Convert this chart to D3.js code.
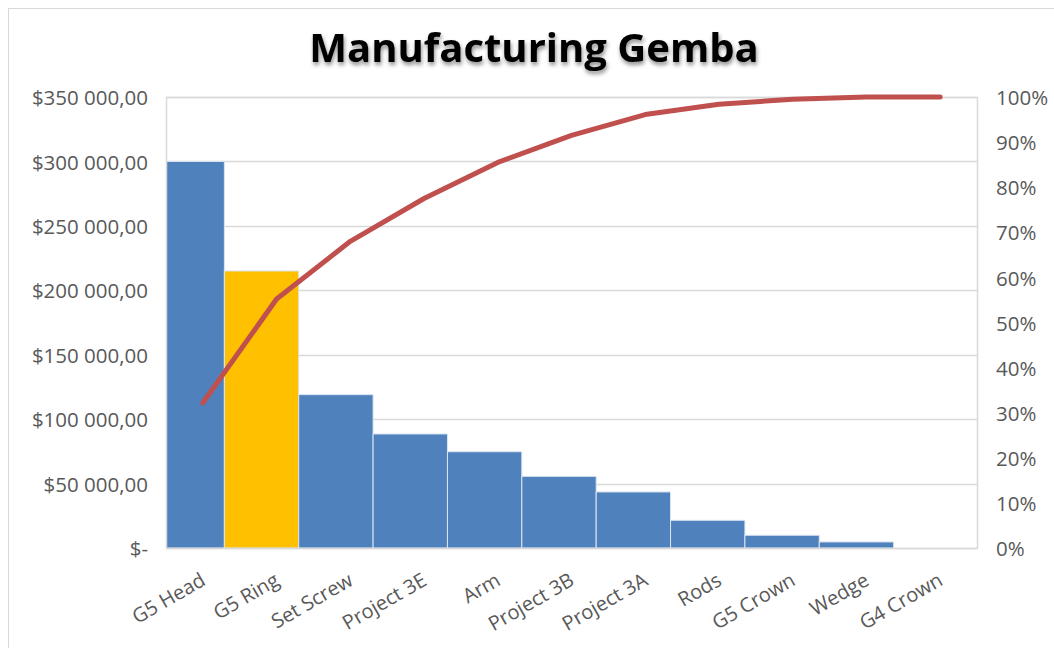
<!DOCTYPE html>
<html>
<head>
<meta charset="utf-8">
<script src="https://cdn.jsdelivr.net/npm/d3@7"></script>
<style>
  html, body { margin: 0; padding: 0; background: #fff; }
  svg { display: block; }
</style>
</head>
<body>
<svg id="chart" width="1054" height="648"></svg>
<script>
const categories = ["G5 Head", "G5 Ring", "Set Screw", "Project 3E", "Arm", "Project 3B", "Project 3A", "Rods", "G5 Crown", "Wedge", "G4 Crown"];
const costValues = [300000, 215000, 119000, 88500, 74700, 55600, 43500, 21500, 9900, 4700, 0];
const cumulativePct = [32.2, 55.2, 68.0, 77.5, 85.5, 91.5, 96.1, 98.4, 99.5, 100, 100];
const highlightCategory = "G5 Ring";
const leftTicks = [0, 50000, 100000, 150000, 200000, 250000, 300000, 350000];
const leftTickLabels = ["$-", "$50 000,00", "$100 000,00", "$150 000,00", "$200 000,00", "$250 000,00", "$300 000,00", "$350 000,00"];
const rightTicks = [0, 10, 20, 30, 40, 50, 60, 70, 80, 90, 100];
const rightTickLabels = ["0%", "10%", "20%", "30%", "40%", "50%", "60%", "70%", "80%", "90%", "100%"];
const title = "Manufacturing Gemba";

const svg = d3.select("#chart");
const plot = { left: 166, right: 977, top: 97, bottom: 548 };
const font = "'Open Sans', Lato, sans-serif";
const textColor = "#595959";
const gridColor = "#d9d9d9";

// outer chart border
svg.append("rect").attr("x", 8.5).attr("y", 8.5).attr("width", 1060).attr("height", 660)
  .attr("fill", "none").attr("stroke", "#d9d9d9").attr("stroke-width", 1);

const y = d3.scaleLinear().domain([0, 350000]).range([plot.bottom, plot.top]);
const yPct = d3.scaleLinear().domain([0, 100]).range([plot.bottom, plot.top]);
const xLine = d3.scalePoint().domain(categories).range([plot.left, plot.right]).padding(0.5);
const xBar = d3.scaleBand().domain(categories).range([150, 968]).paddingInner(0).paddingOuter(0);

// gridlines
svg.append("g").selectAll("line").data(leftTicks).join("line")
  .attr("x1", plot.left).attr("x2", plot.right)
  .attr("y1", d => Math.round(y(d)) + 0.5).attr("y2", d => Math.round(y(d)) + 0.5)
  .attr("stroke", gridColor).attr("stroke-width", 1.5);

// clip
svg.append("clipPath").attr("id", "plotclip").append("rect")
  .attr("x", plot.left).attr("y", plot.top).attr("width", plot.right - plot.left).attr("height", plot.bottom - plot.top);

// bars
svg.append("g").attr("clip-path", "url(#plotclip)").selectAll("rect")
  .data(categories.map((c, i) => ({ c, v: costValues[i] })).filter(d => d.v > 0))
  .join("rect")
  .attr("x", d => xBar(d.c))
  .attr("width", xBar.bandwidth())
  .attr("y", d => y(d.v))
  .attr("height", d => y(0) - y(d.v))
  .attr("fill", d => d.c === highlightCategory ? "#ffc000" : "#4f81bd")
  .attr("stroke", "#dbe5f1").attr("stroke-width", 1);

// plot border
svg.append("rect").attr("x", plot.left + 0.5).attr("y", plot.top + 0.5)
  .attr("width", plot.right - plot.left).attr("height", plot.bottom - plot.top)
  .attr("fill", "none").attr("stroke", gridColor).attr("stroke-width", 1.5);

// cumulative line
const line = d3.line().x((d, i) => xLine(categories[i])).y(d => yPct(d));
svg.append("path").datum(cumulativePct).attr("d", line)
  .attr("fill", "none").attr("stroke", "#c0504d").attr("stroke-width", 5)
  .attr("stroke-linejoin", "round").attr("stroke-linecap", "round");

// left axis labels
svg.append("g").selectAll("text").data(leftTicks).join("text")
  .attr("x", 148).attr("y", d => y(d) + 1).attr("dy", "0.35em")
  .attr("text-anchor", "end").attr("font-family", font).attr("font-size", 20.5)
  .attr("fill", textColor).text((d, i) => leftTickLabels[i]);

// right axis labels
svg.append("g").selectAll("text").data(rightTicks).join("text")
  .attr("x", 996).attr("y", d => yPct(d) + 1).attr("dy", "0.35em")
  .attr("text-anchor", "start").attr("font-family", font).attr("font-size", 20.5)
  .attr("fill", textColor).text((d, i) => rightTickLabels[i]);

// x labels
svg.append("g").selectAll("text").data(categories).join("text")
  .attr("transform", d => `translate(${xLine(d) - 3},${572}) rotate(-30)`)
  .attr("text-anchor", "end").attr("dy", "0.7em")
  .attr("font-family", font).attr("font-size", 20)
  .attr("fill", textColor).text(d => d);

// title with shadow
const defs = svg.append("defs");
const f = defs.append("filter").attr("id", "shadow").attr("x", "-10%").attr("y", "-30%").attr("width", "120%").attr("height", "160%");
f.append("feDropShadow").attr("dx", 1).attr("dy", 3).attr("stdDeviation", 2).attr("flood-color", "#000").attr("flood-opacity", 0.45);
svg.append("text").attr("x", 534).attr("y", 62).attr("text-anchor", "middle")
  .attr("font-family", font).attr("font-weight", "bold").attr("font-size", 40)
  .attr("fill", "#000").attr("filter", "url(#shadow)").text(title);
</script>
</body>
</html>
